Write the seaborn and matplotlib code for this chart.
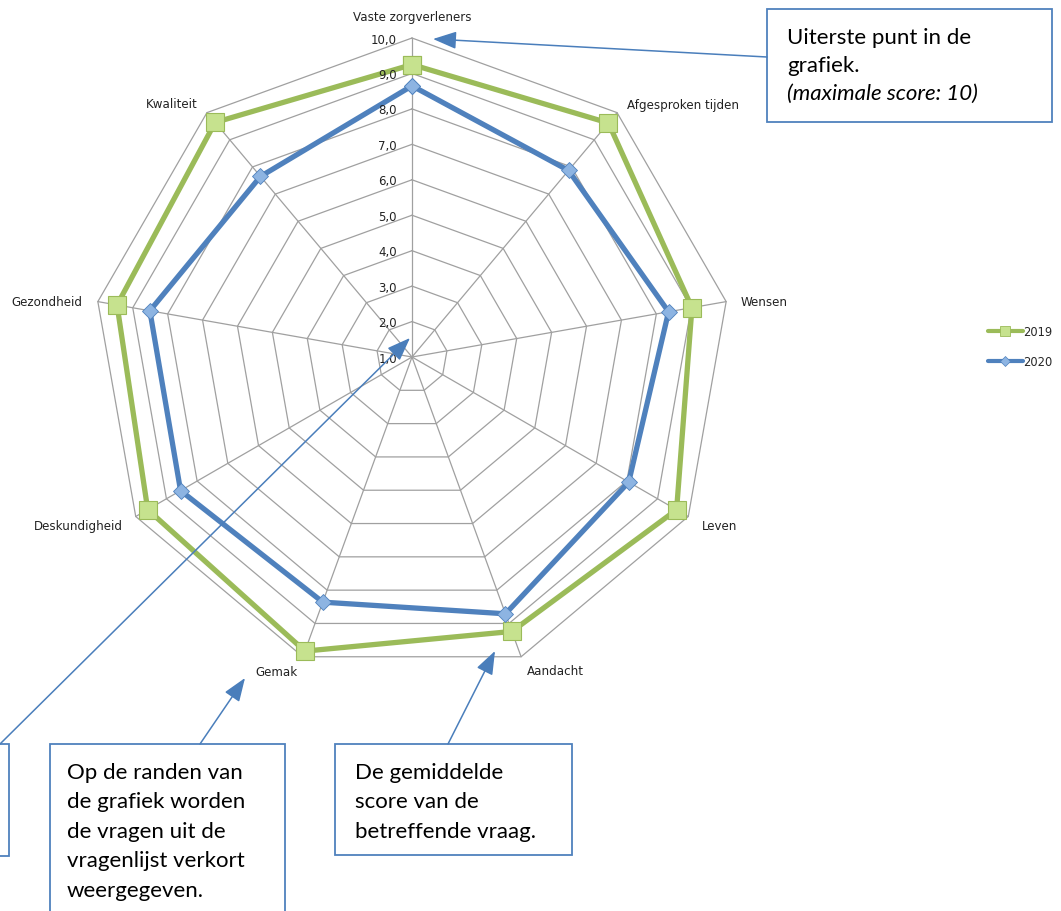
import numpy as np
import pandas as pd
import matplotlib
matplotlib.use("Agg")
import matplotlib.pyplot as plt
import seaborn as sns
from matplotlib.patches import Rectangle
from matplotlib.lines import Line2D

# ---------------- data ----------------
categories = ["Vaste zorgverleners", "Afgesproken tijden", "Wensen", "Leven",
              "Aandacht", "Gemak", "Deskundigheid", "Gezondheid", "Kwaliteit"]
scores_2019 = [9.25, 9.62, 9.02, 9.62, 9.24, 9.83, 9.61, 9.45, 9.64]
scores_2020 = [8.65, 7.87, 8.35, 8.06, 8.71, 8.36, 8.54, 8.51, 7.65]
series_names = ["2019", "2020"]
r_ticks = [1, 2, 3, 4, 5, 6, 7, 8, 9, 10]
r_tick_labels = ["1,0", "2,0", "3,0", "4,0", "5,0", "6,0", "7,0", "8,0", "9,0", "10,0"]

# ---------------- style ----------------
sns.set_style("white")
plt.rcParams["font.family"] = ["DejaVu Sans"]

W, H = 1061, 912
cx, cy, R = 412, 358, 319
GREEN, GREEN_FACE = "#9BBB59", "#C6E28E"
BLUE, BLUE_FACE = "#4F81BD", "#8DB4E2"
GRID = "#A0A0A0"
BOX = "#4F81BD"
ARROW = "#4A7EBB"

fig = plt.figure(figsize=(W / 100, H / 100), dpi=100)
ax = fig.add_axes([(cx - R) / W, 1 - (cy + R) / H, 2 * R / W, 2 * R / H], projection="polar")
ax.set_theta_zero_location("N")
ax.set_theta_direction(-1)
ax.set_ylim(r_ticks[0], r_ticks[-1])
ax.grid(False)
ax.spines["polar"].set_visible(False)
ax.set_xticks([])
ax.set_yticks([])
ax.patch.set_alpha(0)

n = len(categories)
thetas = [2 * np.pi * i / n for i in range(n)]
theta_closed = thetas + [2 * np.pi]

# polygon grid
for lvl in r_ticks[1:]:
    ax.plot(theta_closed, [lvl] * (n + 1), color=GRID, lw=0.9, zorder=1, clip_on=False)
for t in thetas:
    ax.plot([t, t], [r_ticks[0], r_ticks[-1]], color=GRID, lw=0.9, zorder=1, clip_on=False)

# series
rows = []
for name, vals in zip(series_names, [scores_2019, scores_2020]):
    closed = list(vals) + [vals[0]]
    for t, v in zip(theta_closed, closed):
        rows.append({"series": name, "theta": t, "score": v})
df = pd.DataFrame(rows)

styles = {
    "2019": dict(color=GREEN, marker="s", markersize=12.5, markerfacecolor=GREEN_FACE,
                 markeredgecolor=GREEN, markeredgewidth=0.8),
    "2020": dict(color=BLUE, marker="D", markersize=8, markerfacecolor=BLUE_FACE,
                 markeredgecolor=BLUE, markeredgewidth=0.6),
}
for name in series_names:
    sns.lineplot(data=df[df["series"] == name], x="theta", y="score", sort=False,
                 estimator=None, linewidth=3.8, ax=ax, legend=False, zorder=3,
                 clip_on=False, **styles[name])
ax.set_xlabel("")
ax.set_ylabel("")

# radial tick labels
for lvl, lab in zip(r_ticks, r_tick_labels):
    ax.annotate(lab, xy=(0, lvl), xytext=(-15, -1), textcoords="offset pixels",
                ha="right", va="center", fontsize=8.5, color="#222222", zorder=4)

# category labels
cat_offsets = [(0, 22, "center"), (10, 8, "left"), (14, 0, "left"), (14, -9, "left"),
               (34, -14, "center"), (-26, -15, "center"), (-13, -9, "right"),
               (-15, 0, "right"), (-9, 9, "right")]
for t, lab, (dx, dy, ha) in zip(thetas, categories, cat_offsets):
    ax.annotate(lab, xy=(t, r_ticks[-1]), xytext=(dx, dy), textcoords="offset pixels",
                ha=ha, va="center", fontsize=8.6, color="#222222")

# legend
handles = [
    Line2D([], [], color=GREEN, lw=3, marker="s", markersize=7, markerfacecolor=GREEN_FACE,
           markeredgecolor=GREEN, markeredgewidth=0.6),
    Line2D([], [], color=BLUE, lw=3, marker="D", markersize=5, markerfacecolor=BLUE_FACE,
           markeredgecolor=BLUE, markeredgewidth=0.5),
]
fig.legend(handles, series_names, loc="center left",
           bbox_to_anchor=(988 / W, 1 - 347.5 / H), frameon=False, fontsize=8.3,
           handlelength=3.0, handletextpad=0.05, labelspacing=1.4,
           borderpad=0, borderaxespad=0)

# ---------------- annotation overlay ----------------
ov = fig.add_axes([0, 0, 1, 1], zorder=5)
ov.set_xlim(0, W)
ov.set_ylim(H, 0)
ov.axis("off")
ov.patch.set_alpha(0)

box_kw = dict(facecolor="white", edgecolor=BOX, lw=1.3)
ov.add_patch(Rectangle((767, 10), 285, 113, **box_kw))
ov.add_patch(Rectangle((-200, 745), 209, 112, **box_kw))
ov.add_patch(Rectangle((50, 745), 235, 220, clip_on=False, **box_kw))
ov.add_patch(Rectangle((335, 745), 237, 111, **box_kw))

aprops = dict(arrowstyle="-|>,head_length=0.8,head_width=0.3", color=ARROW, lw=1.1,
              mutation_scale=18, shrinkA=0, shrinkB=0)
ov.annotate("", xy=(433, 40), xytext=(767, 58), arrowprops=aprops)
ov.annotate("", xy=(410, 339), xytext=(0, 745), arrowprops=aprops)
ov.annotate("", xy=(245, 679), xytext=(200, 745), arrowprops=aprops)
ov.annotate("", xy=(495, 652), xytext=(448, 745), arrowprops=aprops)

tkw = dict(fontsize=16, family=["Lato", "DejaVu Sans"], color="black", va="center", ha="left")
ov.text(787, 38, "Uiterste punt in de", **tkw)
ov.text(787, 66, "grafiek.", **tkw)
ov.text(787, 94, "(maximale score: 10)", style="italic", **tkw)

for i, line in enumerate(["Op de randen van", "de grafiek worden", "de vragen uit de",
                          "vragenlijst verkort", "weergegeven."]):
    ov.text(67, 773 + 29.5 * i, line, **tkw)
for i, line in enumerate(["De gemiddelde", "score van de", "betreffende vraag."]):
    ov.text(355, 773 + 29.5 * i, line, **tkw)

fig.savefig("out.png", dpi=100)
